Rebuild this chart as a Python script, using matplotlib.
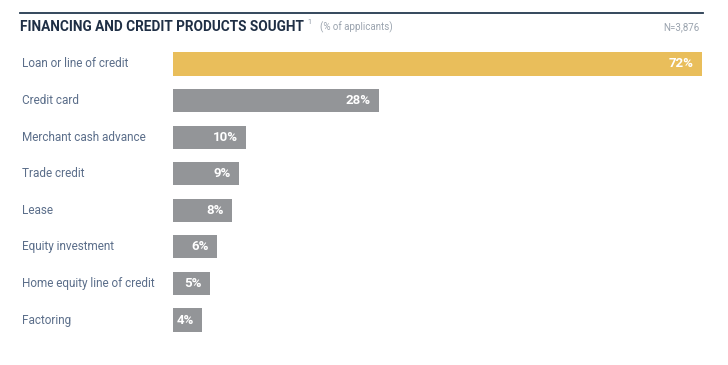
import matplotlib.pyplot as plt
from matplotlib.transforms import blended_transform_factory

plt.rcParams['font.family'] = ['Roboto', 'DejaVu Sans']

categorias = [
    "Loan or line of credit",
    "Credit card",
    "Merchant cash advance",
    "Trade credit",
    "Lease",
    "Equity investment",
    "Home equity line of credit",
    "Factoring",
]
valores = [72, 28, 10, 9, 8, 6, 5, 4]
etiquetas = ["72%", "28%", "10%", "9%", "8%", "6%", "5%", "4%"]

W, H = 728, 365
fig = plt.figure(figsize=(W / 100, H / 100), dpi=100)

# axes en pixeles: x 173..702 -> 0..72, filas de 45.7 a 338.3
x0, x1 = 173, 702
y_top, y_bot = 45.7, 338.3
ax = fig.add_axes([x0 / W, 1 - y_bot / H, (x1 - x0) / W, (y_bot - y_top) / H])

colores = ['#E9BE5B'] + ['#939598'] * (len(valores) - 1)
filas = list(range(len(valores)))
ax.barh(filas, valores, height=0.63, color=colores)
ax.set_xlim(0, 72)
ax.set_ylim(len(valores) - 0.5, -0.5)
ax.axis('off')

for i, (v, t) in enumerate(zip(valores, etiquetas)):
    ax.annotate(t, (v, i), xytext=(-6, 0), textcoords='offset points',
                ha='right', va='center', color='white', fontsize=9.5,
                fontweight='bold')

trans = blended_transform_factory(fig.transFigure, ax.transData)
for i, c in enumerate(categorias):
    ax.text(22 / W, i, c, transform=trans, ha='left', va='center',
            fontsize=8.5, color='#5B6E8A')

# cabecera
fig.add_artist(plt.Line2D([20 / W, 703 / W], [1 - 12.5 / H, 1 - 12.5 / H],
                          color='#24394F', lw=1.3))
fig.text(20 / W, 1 - 27 / H, "FINANCING AND CREDIT PRODUCTS SOUGHT",
         fontsize=9.8, fontweight='bold', color='#1F2F45', va='center')
fig.text(307 / W, 1 - 23 / H, "1", fontsize=5, color='#8C96A4', va='center')
fig.text(320 / W, 1 - 27 / H, "(% of applicants)", fontsize=7,
         color='#9AA3AE', va='center')
fig.text(700 / W, 1 - 27 / H, "N=3,876", fontsize=7, color='#9AA3AE',
         va='center', ha='right')

fig.savefig("out.png", dpi=100)
